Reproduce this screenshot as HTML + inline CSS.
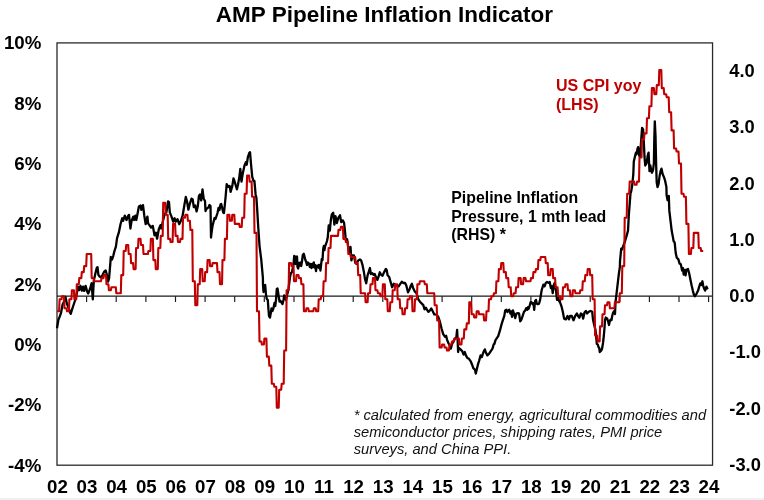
<!DOCTYPE html>
<html><head><meta charset="utf-8"><title>AMP Pipeline Inflation Indicator</title>
<style>
html,body{margin:0;padding:0;background:#fff;}
body{width:764px;height:500px;overflow:hidden;position:relative;}
svg{display:block;position:absolute;left:0;top:0;}
text{font-family:"Liberation Sans",sans-serif;}
</style></head><body>
<svg width="764" height="500" viewBox="0 0 764 500">
<rect x="0" y="0" width="764" height="500" fill="#ffffff"/>
<rect x="0" y="498" width="764" height="2" fill="#f0f0f0"/>
<text x="384.4" y="21.8" text-anchor="middle" font-size="22.5" font-weight="bold" fill="#000">AMP Pipeline Inflation Indicator</text>
<rect x="57" y="42.9" width="655.55" height="422.3" fill="none" stroke="#2a2a2a" stroke-width="1.3"/>
<path d="M57 296.1 H712.5" stroke="#1a1a1a" stroke-width="1.1" fill="none"/>
<path d="M86.6 296.15 v5.8M116.2 296.15 v5.8M145.9 296.15 v5.8M175.5 296.15 v5.8M205.1 296.15 v5.8M234.7 296.15 v5.8M264.3 296.15 v5.8M294.0 296.15 v5.8M323.6 296.15 v5.8M353.2 296.15 v5.8M382.8 296.15 v5.8M412.4 296.15 v5.8M442.1 296.15 v5.8M471.7 296.15 v5.8M501.3 296.15 v5.8M530.9 296.15 v5.8M560.5 296.15 v5.8M590.2 296.15 v5.8M619.8 296.15 v5.8M649.4 296.15 v5.8M679.0 296.15 v5.8M708.6 296.15 v5.8" stroke="#1a1a1a" stroke-width="1.15" fill="none"/>
<g font-size="18.7" font-weight="bold" fill="#000" text-anchor="end">
<text x="41.3" y="49.4">10%</text>
<text x="41.3" y="109.7">8%</text>
<text x="41.3" y="170.0">6%</text>
<text x="41.3" y="230.4">4%</text>
<text x="41.3" y="290.7">2%</text>
<text x="41.3" y="351.0">0%</text>
<text x="41.3" y="411.3">-2%</text>
<text x="41.3" y="471.6">-4%</text>
</g>
<g font-size="18.3" font-weight="bold" fill="#000">
<text x="729.3" y="76.9">4.0</text>
<text x="729.3" y="133.2">3.0</text>
<text x="729.3" y="189.5">2.0</text>
<text x="729.3" y="245.8">1.0</text>
<text x="729.3" y="302.1">0.0</text>
<text x="729.3" y="358.4">-1.0</text>
<text x="729.3" y="414.7">-2.0</text>
<text x="729.3" y="471.0">-3.0</text>
</g>
<g font-size="18.7" font-weight="bold" fill="#000"><text x="57.4" y="493.2" text-anchor="middle">02</text><text x="87.0" y="493.2" text-anchor="middle">03</text><text x="116.6" y="493.2" text-anchor="middle">04</text><text x="146.3" y="493.2" text-anchor="middle">05</text><text x="175.9" y="493.2" text-anchor="middle">06</text><text x="205.5" y="493.2" text-anchor="middle">07</text><text x="235.1" y="493.2" text-anchor="middle">08</text><text x="264.7" y="493.2" text-anchor="middle">09</text><text x="294.4" y="493.2" text-anchor="middle">10</text><text x="324.0" y="493.2" text-anchor="middle">11</text><text x="353.6" y="493.2" text-anchor="middle">12</text><text x="383.2" y="493.2" text-anchor="middle">13</text><text x="412.8" y="493.2" text-anchor="middle">14</text><text x="442.5" y="493.2" text-anchor="middle">15</text><text x="472.1" y="493.2" text-anchor="middle">16</text><text x="501.7" y="493.2" text-anchor="middle">17</text><text x="531.3" y="493.2" text-anchor="middle">18</text><text x="560.9" y="493.2" text-anchor="middle">19</text><text x="590.6" y="493.2" text-anchor="middle">20</text><text x="620.2" y="493.2" text-anchor="middle">21</text><text x="649.8" y="493.2" text-anchor="middle">22</text><text x="679.4" y="493.2" text-anchor="middle">23</text><text x="709.0" y="493.2" text-anchor="middle">24</text></g>
<path d="M57.0 328.3 L58.4 319.8 L59.8 316.4 L61.0 313.0 L62.6 304.5 L64.3 301.1 L65.5 296.9 L66.9 303.7 L68.3 307.1 L70.0 312.2 L70.7 313.9 L72.0 309.6 L73.7 304.5 L75.4 299.4 L76.8 293.5 L78.0 286.7 L79.2 290.1 L80.5 285.8 L81.9 290.6 L83.1 286.7 L84.2 290.9 L85.6 285.8 L87.0 290.9 L88.2 293.5 L89.9 289.2 L91.6 283.3 L92.8 299.4 L93.8 280.7 L95.5 273.1 L96.7 268.0 L97.5 267.1 L98.4 274.8 L99.6 276.5 L100.9 277.3 L102.6 274.8 L104.3 271.4 L105.7 270.5 L106.9 274.8 L108.1 281.6 L109.1 278.2 L110.3 263.7 L110.8 256.9 L112.0 259.5 L113.2 256.1 L114.5 250.9 L115.9 246.7 L117.1 237.8 L118.8 232.7 L120.5 224.2 L122.2 218.3 L123.1 220.8 L124.8 215.7 L126.5 220.0 L128.2 215.7 L129.0 214.9 L130.4 228.5 L131.6 220.8 L133.3 216.6 L134.1 220.0 L135.3 215.7 L136.3 220.0 L137.5 214.0 L138.9 206.4 L140.6 205.5 L141.3 209.8 L143.0 205.2 L144.3 215.7 L145.7 224.2 L147.4 216.6 L148.1 223.4 L149.4 225.1 L151.1 227.6 L152.8 225.9 L154.5 235.3 L155.9 232.7 L157.1 238.7 L158.8 229.3 L160.5 225.1 L161.3 228.5 L163.0 220.8 L164.7 214.0 L166.4 212.3 L168.1 201.3 L169.0 202.1 L169.8 212.3 L171.5 216.6 L173.2 221.7 L174.6 218.3 L175.8 221.7 L177.5 219.1 L179.2 224.2 L180.9 220.8 L182.6 215.7 L184.3 205.5 L185.8 197.0 L187.0 201.2 L188.4 209.7 L189.8 203.8 L191.5 198.7 L192.7 199.5 L193.8 207.2 L195.2 205.5 L196.6 211.4 L197.8 206.3 L198.9 196.1 L200.0 194.4 L201.2 200.4 L202.5 189.3 L203.7 198.7 L205.0 201.0 L205.5 211.0 L206.5 209.0 L207.5 208.0 L208.5 207.5 L209.5 205.0 L210.5 206.0 L211.0 237.5 L211.5 233.0 L212.5 226.0 L213.5 222.0 L214.5 218.0 L215.5 219.0 L216.5 216.0 L217.5 213.0 L218.5 208.0 L219.5 210.0 L220.5 204.5 L221.2 204.0 L222.2 208.0 L223.2 212.5 L224.0 213.0 L224.8 205.0 L225.5 198.0 L226.7 184.2 L228.4 186.8 L229.6 185.9 L230.6 191.9 L232.3 185.9 L233.5 178.3 L234.7 181.7 L235.7 185.1 L236.9 189.3 L238.1 184.2 L239.4 176.6 L240.3 168.9 L241.5 181.7 L242.8 173.2 L244.5 165.5 L245.9 162.1 L246.7 164.7 L247.9 157.0 L249.3 152.8 L250.0 152.2 L251.0 163.8 L252.2 176.6 L253.4 180.8 L254.4 180.8 L255.6 194.4 L256.4 197.8 L257.3 211.4 L258.1 225.0 L259.5 245.6 L261.2 259.2 L262.9 277.9 L263.0 285.0 L263.5 292.0 L264.2 285.5 L265.2 285.0 L266.0 295.0 L266.8 299.0 L267.8 300.0 L268.5 310.0 L269.0 316.0 L270.0 317.5 L270.8 313.0 L271.5 308.5 L272.5 311.0 L273.5 308.0 L274.5 303.0 L275.2 306.0 L276.0 300.0 L276.8 289.0 L277.5 288.5 L278.5 295.0 L279.5 301.5 L280.5 301.0 L281.5 302.5 L282.5 304.0 L283.5 300.0 L284.2 295.5 L285.0 296.0 L286.0 300.0 L288.5 289.0 L290.0 277.0 L291.0 273.0 L292.0 272.0 L292.8 268.0 L293.5 264.0 L294.2 256.0 L295.0 256.5 L295.5 264.0 L296.0 258.0 L297.0 256.5 L297.5 267.0 L298.2 268.5 L299.0 263.0 L299.8 265.5 L300.5 262.5 L301.2 266.0 L302.0 261.5 L302.8 255.0 L303.8 253.8 L304.5 256.5 L305.2 259.5 L306.0 261.5 L307.0 265.0 L308.0 262.5 L309.0 263.5 L309.8 267.0 L310.8 264.0 L311.5 268.0 L312.3 264.0 L313.0 267.0 L313.8 262.5 L314.5 267.5 L315.2 265.0 L316.0 271.0 L316.8 266.0 L317.8 267.0 L318.5 265.0 L319.2 268.0 L319.8 265.0 L320.5 270.5 L321.2 264.0 L321.8 259.0 L322.5 260.0 L323.2 249.0 L323.8 246.0 L324.5 250.0 L325.2 246.0 L326.0 244.0 L327.0 241.0 L327.8 237.0 L328.7 225.5 L329.8 230.6 L330.9 219.6 L331.8 214.5 L333.2 212.8 L334.4 224.7 L335.5 216.2 L336.9 223.0 L338.3 217.9 L340.0 215.3 L341.2 222.1 L342.9 220.4 L344.1 223.0 L345.1 232.3 L345.8 240.0 L347.1 239.1 L348.5 249.3 L349.7 252.7 L350.5 246.8 L351.4 260.4 L352.6 255.3 L353.9 255.3 L355.3 262.9 L356.5 263.8 L358.2 260.4 L359.9 259.5 L361.1 260.4 L362.4 264.6 L363.8 271.4 L365.0 279.1 L366.2 283.3 L367.5 275.7 L368.9 271.4 L369.9 268.0 L370.9 274.0 L372.3 273.1 L373.5 274.8 L374.7 274.0 L376.0 277.4 L377.4 279.9 L378.6 276.5 L379.8 272.3 L381.1 274.8 L382.5 275.7 L383.7 273.1 L384.5 271.4 L385.9 268.9 L386.7 270.2 L387.6 275.3 L389.2 277.0 L390.9 283.0 L392.1 287.2 L393.8 283.8 L395.2 284.7 L396.9 285.5 L398.6 286.4 L400.3 283.8 L401.7 281.8 L403.4 283.0 L405.1 283.0 L406.3 285.5 L408.0 292.3 L409.7 288.9 L410.9 285.5 L411.9 283.8 L413.1 288.1 L414.8 291.5 L416.5 293.2 L418.2 299.1 L419.9 301.7 L421.6 303.4 L423.3 305.1 L424.5 309.3 L425.8 307.6 L427.2 310.2 L428.4 311.9 L430.1 310.2 L431.3 308.5 L432.6 311.0 L434.3 314.4 L436.7 314.6 L438.4 317.1 L439.8 321.4 L441.5 328.2 L443.2 334.1 L444.9 336.7 L446.1 335.8 L447.2 340.1 L448.6 343.5 L450.0 346.0 L450.8 348.6 L452.0 344.3 L453.7 340.9 L455.1 338.4 L456.3 337.5 L457.1 329.9 L457.6 339.2 L458.1 352.0 L458.8 347.7 L460.5 349.4 L462.2 351.1 L463.6 354.5 L464.8 352.0 L465.9 355.4 L467.3 357.9 L469.0 358.8 L470.7 361.3 L472.1 364.7 L473.3 368.1 L475.0 369.8 L475.8 373.6 L476.7 369.8 L477.9 364.7 L479.2 360.5 L480.6 355.4 L481.8 357.1 L483.5 352.0 L484.8 349.4 L486.0 352.8 L487.4 355.4 L489.1 353.7 L490.8 351.1 L492.5 348.6 L493.7 344.3 L494.4 343.9 L495.5 340.1 L498.2 336.2 L499.9 330.7 L501.6 324.1 L503.2 319.1 L504.3 315.9 L505.2 310.4 L506.3 309.8 L507.4 312.0 L508.1 310.4 L509.2 309.8 L510.4 313.6 L511.1 311.4 L512.0 316.9 L512.9 310.4 L514.0 313.6 L515.3 318.1 L516.4 313.6 L518.0 313.1 L519.1 313.6 L520.2 321.4 L521.4 319.7 L522.5 316.4 L523.9 312.0 L525.2 310.4 L526.3 308.1 L527.2 309.8 L528.0 307.1 L528.7 308.7 L529.6 305.9 L530.7 302.1 L531.8 302.6 L532.9 304.3 L533.5 303.2 L534.2 309.8 L535.1 301.0 L536.0 299.9 L536.8 303.8 L537.9 304.3 L539.0 303.8 L540.1 299.9 L540.8 295.5 L541.7 290.0 L543.4 284.6 L544.6 286.3 L545.8 282.9 L547.1 282.0 L548.5 282.9 L549.7 282.0 L550.9 288.0 L551.9 286.3 L552.7 293.1 L553.9 284.6 L554.8 282.9 L556.0 290.5 L557.0 299.9 L558.2 297.3 L559.0 300.7 L560.4 303.3 L561.6 306.7 L562.8 311.8 L564.1 318.6 L565.8 319.4 L567.5 316.0 L568.9 319.4 L570.1 316.0 L571.8 316.0 L573.5 320.3 L575.2 316.0 L576.9 313.5 L578.1 316.0 L579.4 317.7 L580.8 313.5 L582.0 314.3 L583.2 318.6 L584.5 312.6 L585.9 310.9 L587.1 313.5 L588.8 311.8 L590.5 310.9 L592.2 311.8 L593.0 319.5 L594.2 325.0 L595.5 330.0 L596.2 337.0 L596.8 344.0 L597.8 344.5 L598.5 347.0 L599.2 348.0 L599.8 352.0 L600.8 351.0 L601.5 350.0 L602.2 348.0 L603.0 343.0 L603.8 336.0 L604.5 328.0 L605.0 320.0 L605.8 317.5 L606.5 319.0 L607.2 318.5 L608.0 321.0 L609.0 325.0 L609.8 321.0 L610.8 319.5 L611.5 320.0 L612.2 316.0 L613.0 313.0 L613.8 311.5 L614.5 311.0 L615.0 314.0 L615.5 302.4 L616.5 293.9 L617.7 283.7 L618.9 273.5 L619.9 266.7 L620.0 261.4 L621.2 248.7 L622.0 249.5 L625.1 241.0 L626.8 235.1 L628.0 230.8 L628.8 215.5 L629.7 203.6 L630.5 193.4 L631.1 191.9 L632.2 185.5 L633.3 174.3 L633.8 161.5 L634.9 156.7 L635.9 152.7 L636.5 154.3 L637.5 148.7 L638.1 147.1 L639.1 155.1 L639.7 156.7 L640.7 147.1 L641.5 135.8 L642.1 127.8 L643.1 129.4 L643.9 143.8 L644.5 156.7 L645.2 165.5 L646.6 163.1 L647.8 155.1 L648.6 152.7 L649.0 161.5 L649.5 171.1 L650.3 165.5 L651.1 169.5 L651.9 172.7 L653.0 170.3 L653.9 163.1 L654.3 139.0 L654.8 121.4 L655.5 135.8 L656.1 163.1 L656.7 182.3 L657.5 187.1 L658.6 183.9 L659.6 175.9 L660.6 171.1 L661.5 168.7 L662.7 174.3 L663.8 176.7 L665.1 180.7 L666.4 187.1 L666.6 195.1 L667.6 200.2 L668.8 195.9 L669.3 210.4 L670.5 220.6 L671.7 230.8 L673.0 237.6 L673.6 241.0 L674.7 242.6 L675.7 253.0 L676.8 257.8 L678.4 259.4 L679.5 263.4 L680.8 264.2 L682.1 270.6 L682.9 268.2 L683.7 274.6 L684.8 269.8 L685.6 275.4 L686.4 269.8 L688.0 269.0 L689.1 273.0 L690.4 279.4 L691.7 285.8 L692.8 290.6 L693.9 294.6 L694.9 296.2 L696.5 293.8 L698.1 290.6 L699.2 286.6 L700.3 283.4 L701.3 285.0 L702.4 281.3 L703.2 285.8 L704.0 288.2 L705.1 290.6 L706.4 286.6 L707.2 288.2 L708.0 289.0" stroke="#000" stroke-width="2.3" fill="none" stroke-linejoin="round"/>
<path d="M57.0 311.3 L59.1 311.3 L59.6 299.3 L61.5 299.3 L62.0 296.2 L64.0 296.2 L64.5 308.3 L66.5 308.3 L67.0 311.3 L68.9 311.3 L69.4 299.3 L71.4 299.3 L71.9 290.2 L73.9 290.2 L74.4 299.3 L76.3 299.3 L76.8 284.2 L78.8 284.2 L79.3 278.1 L81.3 278.1 L81.8 272.1 L83.7 272.1 L84.2 266.1 L86.2 266.1 L86.7 254.0 L88.7 254.0 L89.2 254.0 L91.2 254.0 L91.7 278.1 L93.6 278.1 L94.1 281.2 L96.1 281.2 L96.6 281.2 L98.6 281.2 L99.1 281.2 L101.0 281.2 L101.5 278.1 L103.5 278.1 L104.0 275.1 L106.0 275.1 L106.5 284.2 L108.4 284.2 L108.9 290.2 L110.9 290.2 L111.4 287.2 L113.4 287.2 L113.9 287.2 L115.8 287.2 L116.3 293.2 L118.3 293.2 L118.8 293.2 L120.8 293.2 L121.3 275.1 L123.2 275.1 L123.7 251.0 L125.7 251.0 L126.2 245.0 L128.2 245.0 L128.7 254.0 L130.6 254.0 L131.1 263.1 L133.1 263.1 L133.6 269.1 L135.6 269.1 L136.1 248.0 L138.0 248.0 L138.5 238.9 L140.5 238.9 L141.0 245.0 L143.0 245.0 L143.5 254.0 L145.4 254.0 L145.9 254.0 L147.9 254.0 L148.4 251.0 L150.4 251.0 L150.9 238.9 L152.9 238.9 L153.4 260.1 L155.3 260.1 L155.8 269.1 L157.8 269.1 L158.3 248.0 L160.3 248.0 L160.8 235.9 L162.7 235.9 L163.2 202.7 L165.2 202.7 L165.7 214.8 L167.7 214.8 L168.2 238.9 L170.1 238.9 L170.6 242.0 L172.6 242.0 L173.1 223.9 L175.1 223.9 L175.6 235.9 L177.5 235.9 L178.0 242.0 L180.0 242.0 L180.5 238.9 L182.5 238.9 L183.0 217.8 L184.9 217.8 L185.4 214.8 L187.4 214.8 L187.9 220.8 L189.9 220.8 L190.4 229.9 L192.3 229.9 L192.8 281.2 L194.8 281.2 L195.3 305.3 L197.3 305.3 L197.8 284.2 L199.7 284.2 L200.2 269.1 L202.2 269.1 L202.7 281.2 L204.7 281.2 L205.2 272.1 L207.1 272.1 L207.6 260.1 L209.6 260.1 L210.1 266.1 L212.1 266.1 L212.6 263.1 L214.6 263.1 L215.1 263.1 L217.0 263.1 L217.5 272.1 L219.5 272.1 L220.0 284.2 L222.0 284.2 L222.5 260.1 L224.4 260.1 L224.9 238.9 L226.9 238.9 L227.4 214.8 L229.4 214.8 L229.9 220.8 L231.8 220.8 L232.3 214.8 L234.3 214.8 L234.8 223.9 L236.8 223.9 L237.3 223.9 L239.2 223.9 L239.7 226.9 L241.7 226.9 L242.2 217.8 L244.2 217.8 L244.7 193.7 L246.6 193.7 L247.1 175.6 L249.1 175.6 L249.6 181.6 L251.6 181.6 L252.1 196.7 L254.0 196.7 L254.5 232.9 L256.5 232.9 L257.0 311.3 L259.0 311.3 L259.5 341.5 L261.4 341.5 L261.9 344.5 L263.9 344.5 L264.4 338.5 L266.4 338.5 L266.9 356.6 L268.8 356.6 L269.3 365.6 L271.3 365.6 L271.8 383.7 L273.8 383.7 L274.3 386.7 L276.3 386.7 L276.8 407.8 L278.7 407.8 L279.2 389.7 L281.2 389.7 L281.7 383.7 L283.7 383.7 L284.2 350.5 L286.1 350.5 L286.6 290.2 L288.6 290.2 L289.1 263.1 L291.1 263.1 L291.6 266.1 L293.5 266.1 L294.0 281.2 L296.0 281.2 L296.5 275.1 L298.5 275.1 L299.0 278.1 L300.9 278.1 L301.4 284.2 L303.4 284.2 L303.9 311.3 L305.9 311.3 L306.4 308.3 L308.3 308.3 L308.8 311.3 L310.8 311.3 L311.3 311.3 L313.3 311.3 L313.8 308.3 L315.7 308.3 L316.2 311.3 L318.2 311.3 L318.7 299.3 L320.7 299.3 L321.2 296.2 L323.1 296.2 L323.6 281.2 L325.6 281.2 L326.1 263.1 L328.1 263.1 L328.6 248.0 L330.5 248.0 L331.0 235.9 L333.0 235.9 L333.5 235.9 L335.5 235.9 L336.0 235.9 L338.0 235.9 L338.5 229.9 L340.4 229.9 L340.9 226.9 L342.9 226.9 L343.4 238.9 L345.4 238.9 L345.9 242.0 L347.8 242.0 L348.3 254.0 L350.3 254.0 L350.8 257.0 L352.8 257.0 L353.3 257.0 L355.2 257.0 L355.7 263.1 L357.7 263.1 L358.2 275.1 L360.2 275.1 L360.7 293.2 L362.6 293.2 L363.1 293.2 L365.1 293.2 L365.6 302.3 L367.6 302.3 L368.1 293.2 L370.0 293.2 L370.5 284.2 L372.5 284.2 L373.0 278.1 L375.0 278.1 L375.5 290.2 L377.4 290.2 L377.9 293.2 L379.9 293.2 L380.4 296.2 L382.4 296.2 L382.9 284.2 L384.8 284.2 L385.3 299.3 L387.3 299.3 L387.8 311.3 L389.8 311.3 L390.3 302.3 L392.2 302.3 L392.7 290.2 L394.7 290.2 L395.2 284.2 L397.2 284.2 L397.7 299.3 L399.7 299.3 L400.2 308.3 L402.1 308.3 L402.6 314.3 L404.6 314.3 L405.1 308.3 L407.1 308.3 L407.6 299.3 L409.5 299.3 L410.0 296.2 L412.0 296.2 L412.5 311.3 L414.5 311.3 L415.0 299.3 L416.9 299.3 L417.4 284.2 L419.4 284.2 L419.9 281.2 L421.9 281.2 L422.4 281.2 L424.3 281.2 L424.8 284.2 L426.8 284.2 L427.3 293.2 L429.3 293.2 L429.8 293.2 L431.7 293.2 L432.2 293.2 L434.2 293.2 L434.7 305.3 L436.7 305.3 L437.2 320.4 L439.1 320.4 L439.6 347.5 L441.6 347.5 L442.1 344.5 L444.1 344.5 L444.6 347.5 L446.5 347.5 L447.0 350.5 L449.0 350.5 L449.5 344.5 L451.5 344.5 L452.0 341.5 L453.9 341.5 L454.4 338.5 L456.4 338.5 L456.9 338.5 L458.9 338.5 L459.4 344.5 L461.4 344.5 L461.9 338.5 L463.8 338.5 L464.3 329.4 L466.3 329.4 L466.8 323.4 L468.8 323.4 L469.3 302.3 L471.2 302.3 L471.7 314.3 L473.7 314.3 L474.2 317.4 L476.2 317.4 L476.7 311.3 L478.6 311.3 L479.1 314.3 L481.1 314.3 L481.6 314.3 L483.6 314.3 L484.1 320.4 L486.0 320.4 L486.5 311.3 L488.5 311.3 L489.0 299.3 L491.0 299.3 L491.5 296.2 L493.4 296.2 L493.9 293.2 L495.9 293.2 L496.4 281.2 L498.4 281.2 L498.9 269.1 L500.8 269.1 L501.3 263.1 L503.3 263.1 L503.8 272.1 L505.8 272.1 L506.3 278.1 L508.2 278.1 L508.7 287.2 L510.7 287.2 L511.2 296.2 L513.2 296.2 L513.7 293.2 L515.6 293.2 L516.1 287.2 L518.1 287.2 L518.6 278.1 L520.6 278.1 L521.1 284.2 L523.1 284.2 L523.6 278.1 L525.5 278.1 L526.0 281.2 L528.0 281.2 L528.5 281.2 L530.5 281.2 L531.0 278.1 L532.9 278.1 L533.4 272.1 L535.4 272.1 L535.9 269.1 L537.9 269.1 L538.4 260.1 L540.3 260.1 L540.8 257.0 L542.8 257.0 L543.3 257.0 L545.3 257.0 L545.8 263.1 L547.7 263.1 L548.2 275.1 L550.2 275.1 L550.7 269.1 L552.7 269.1 L553.2 278.1 L555.1 278.1 L555.6 287.2 L557.6 287.2 L558.1 296.2 L560.1 296.2 L560.6 299.3 L562.5 299.3 L563.0 287.2 L565.0 287.2 L565.5 284.2 L567.5 284.2 L568.0 290.2 L569.9 290.2 L570.4 296.2 L572.4 296.2 L572.9 290.2 L574.9 290.2 L575.4 293.2 L577.3 293.2 L577.8 293.2 L579.8 293.2 L580.3 290.2 L582.3 290.2 L582.8 281.2 L584.8 281.2 L585.3 275.1 L587.2 275.1 L587.7 269.1 L589.7 269.1 L590.2 275.1 L592.2 275.1 L592.7 299.3 L594.6 299.3 L595.1 335.5 L597.1 335.5 L597.6 341.5 L599.6 341.5 L600.1 326.4 L602.0 326.4 L602.5 314.3 L604.5 314.3 L605.0 305.3 L607.0 305.3 L607.5 302.3 L609.4 302.3 L609.9 308.3 L611.9 308.3 L612.4 308.3 L614.4 308.3 L614.9 302.3 L616.8 302.3 L617.3 302.3 L619.3 302.3 L619.8 293.2 L621.8 293.2 L622.3 266.1 L624.2 266.1 L624.7 217.8 L626.7 217.8 L627.2 193.7 L629.2 193.7 L629.7 181.6 L631.6 181.6 L632.1 181.6 L634.1 181.6 L634.6 184.7 L636.6 184.7 L637.1 181.6 L639.0 181.6 L639.5 157.5 L641.5 157.5 L642.0 139.4 L644.0 139.4 L644.5 133.4 L646.5 133.4 L647.0 118.3 L648.9 118.3 L649.4 106.2 L651.4 106.2 L651.9 88.1 L653.9 88.1 L654.4 94.2 L656.3 94.2 L656.8 85.1 L658.8 85.1 L659.3 70.0 L661.3 70.0 L661.8 88.1 L663.7 88.1 L664.2 94.2 L666.2 94.2 L666.7 97.2 L668.7 97.2 L669.2 112.3 L671.1 112.3 L671.6 130.4 L673.6 130.4 L674.1 148.5 L676.1 148.5 L676.6 151.5 L678.5 151.5 L679.0 163.5 L681.0 163.5 L681.5 193.7 L683.5 193.7 L684.0 196.7 L685.9 196.7 L686.4 223.9 L688.4 223.9 L688.9 254.0 L690.9 254.0 L691.4 248.0 L693.3 248.0 L693.8 232.9 L695.8 232.9 L696.3 232.9 L698.3 232.9 L698.8 248.0 L700.7 248.0 L701.2 251.0 L703.2 251.0" stroke="#c00000" stroke-width="2.1" fill="none" stroke-linejoin="round"/>
<g font-size="16" font-weight="bold" fill="#c00000">
<text x="556" y="91">US CPI yoy</text>
<text x="556" y="109.6">(LHS)</text>
</g>
<g font-size="15.85" font-weight="bold" fill="#000">
<text x="451.3" y="203.3">Pipeline Inflation</text>
<text x="451.3" y="221.8">Pressure, 1 mth lead</text>
<text x="451.3" y="240.3">(RHS) *</text>
</g>
<g font-size="14.69" font-style="italic" fill="#111">
<text x="353.7" y="419.5">* calculated from energy, agricultural commodities and</text>
<text x="353.7" y="436.8">semiconductor prices, shipping rates, PMI price</text>
<text x="353.7" y="453.8">surveys, and China PPI.</text>
</g>
</svg>
</body></html>
